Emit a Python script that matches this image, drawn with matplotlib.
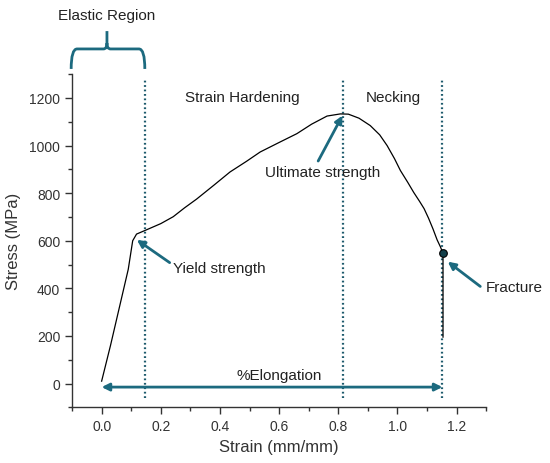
import matplotlib
matplotlib.use("Agg")
import matplotlib.pyplot as plt
from matplotlib.path import Path
from matplotlib.patches import PathPatch
from matplotlib.ticker import MultipleLocator

plt.rcParams['font.family'] = ['Liberation Sans', 'DejaVu Sans']

# Stress-strain curve data
strain = [0.0, 0.03, 0.06, 0.09, 0.105, 0.118, 0.15, 0.20, 0.242, 0.28, 0.321, 0.38, 0.434, 0.49,
          0.536, 0.60, 0.66, 0.71, 0.762, 0.807, 0.834, 0.87, 0.908, 0.94, 0.965, 0.99,
          1.01, 1.035, 1.055, 1.075, 1.09, 1.105, 1.12, 1.134, 1.145, 1.154, 1.154]
stress = [10, 160, 320, 480, 600, 628, 645, 672, 701, 738, 775, 834, 889, 934,
          973, 1013, 1050, 1090, 1124, 1133, 1132, 1115, 1084, 1045, 1000, 945,
          895, 845, 803, 765, 735, 695, 650, 604, 575, 547, 195]

fracture_strain = 1.154
fracture_stress = 547

region_lines = [0.145, 0.817, 1.152]

x_ticks = [0.0, 0.2, 0.4, 0.6, 0.8, 1.0, 1.2]
y_ticks = [0, 200, 400, 600, 800, 1000, 1200]

teal = '#1c6a7f'
dot_col = '#1d5a6c'

fig = plt.figure(figsize=(5.5, 4.64), dpi=100)
ax = fig.add_axes([0.131, 0.12, 0.753, 0.718])

ax.plot(strain, stress, color='black', lw=0.9, zorder=3)
ax.plot([fracture_strain], [fracture_stress], 'o', ms=5.5, mfc='#123f4a',
        mec='black', mew=0.8, zorder=4)

for xv in region_lines:
    ax.plot([xv, xv], [-60, 1275], color=dot_col, lw=1.6, ls=(0, (0.8, 1.2)),
            zorder=2, clip_on=False)

ax.set_xlim(-0.1, 1.3)
ax.set_ylim(-100, 1300)
ax.set_xticks(x_ticks)
ax.set_xticklabels([f"{v:.1f}" for v in x_ticks])
ax.set_yticks(y_ticks)
ax.xaxis.set_minor_locator(MultipleLocator(0.1))
ax.yaxis.set_minor_locator(MultipleLocator(100))
ax.tick_params(which='major', direction='out', length=5, width=1, colors='#333333',
               labelsize=10, labelcolor='#333333')
ax.tick_params(which='minor', direction='out', length=3, width=1, colors='#333333')
for s in ['top', 'right']:
    ax.spines[s].set_visible(False)
for s in ['left', 'bottom']:
    ax.spines[s].set_color('#333333')
    ax.spines[s].set_linewidth(1)

ax.set_xlabel('Strain (mm/mm)', fontsize=12, color='#333333', labelpad=4)
ax.set_ylabel('Stress (MPa)', fontsize=12, color='#333333', labelpad=6)

txt_kw = dict(fontsize=11, color='#222222')
ax.text(0.475, 1205, 'Strain Hardening', ha='center', va='center', **txt_kw)
ax.text(0.985, 1205, 'Necking', ha='center', va='center', **txt_kw)
ax.text(0.017, 1548, 'Elastic Region', ha='center', va='center', clip_on=False, **txt_kw)

arr = dict(arrowstyle='-|>', color=teal, lw=2, mutation_scale=11, shrinkA=0, shrinkB=0)
ax.annotate('', xy=(0.119, 604), xytext=(0.23, 508), arrowprops=arr)
ax.text(0.241, 487, 'Yield strength', ha='left', va='center', **txt_kw)

ax.annotate('', xy=(0.814, 1126), xytext=(0.732, 935), arrowprops=arr)
ax.text(0.553, 890, 'Ultimate strength', ha='left', va='center', **txt_kw)

ax.annotate('', xy=(1.17, 512), xytext=(1.28, 408), arrowprops=arr, annotation_clip=False)
ax.text(1.298, 404, 'Fracture', ha='left', va='center', clip_on=False, **txt_kw)

arr2 = dict(arrowstyle='<|-|>', color=teal, lw=2, mutation_scale=11, shrinkA=0, shrinkB=0)
ax.annotate('', xy=(0.0, -15), xytext=(1.152, -15), arrowprops=arr2)
ax.text(0.6, 35, '%Elongation', ha='center', va='center', **txt_kw)

# Curly brace for elastic region
xl, xr, xm = -0.103, 0.146, 0.018
yb, yc, yt = 1322, 1406, 1481
verts = [(xl, yb), (xl, yc), (xl + 0.02, yc),
         (xm - 0.012, yc), (xm, yc), (xm, yc + 25), (xm, yt),
         (xm, yc + 25), (xm, yc), (xm + 0.012, yc),
         (xr - 0.02, yc), (xr, yc), (xr, yb)]
codes = [Path.MOVETO, Path.CURVE3, Path.CURVE3,
         Path.LINETO, Path.CURVE3, Path.CURVE3, Path.LINETO,
         Path.MOVETO, Path.CURVE3, Path.CURVE3,
         Path.LINETO, Path.CURVE3, Path.CURVE3]
brace = PathPatch(Path(verts, codes), fill=False, edgecolor=teal, lw=2, clip_on=False)
ax.add_patch(brace)

fig.savefig('out.png', dpi=100)
